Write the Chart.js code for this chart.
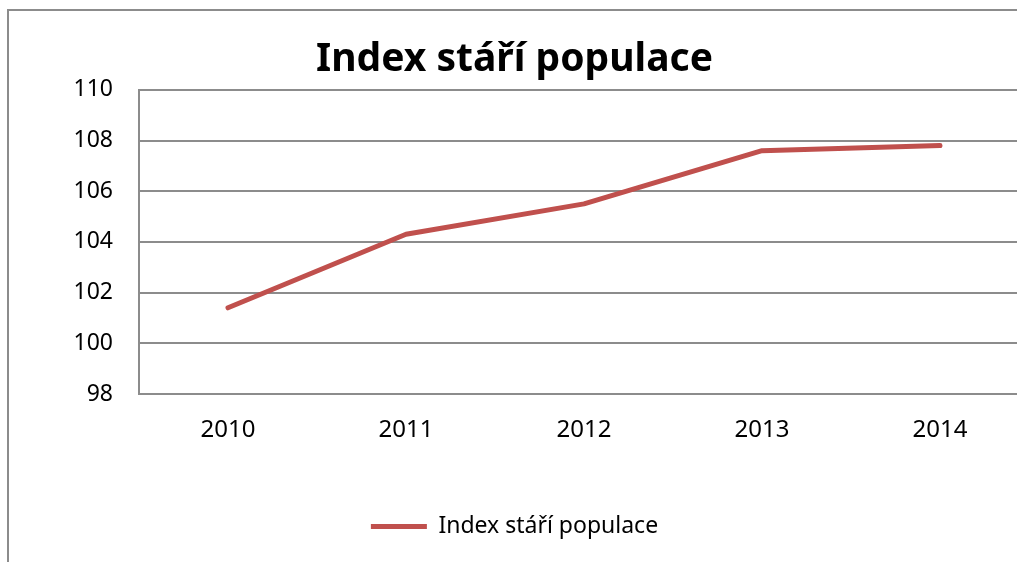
<!DOCTYPE html>
<html>
<head>
<meta charset="utf-8">
<script src="https://cdn.jsdelivr.net/npm/chart.js@4"></script>
<style>
html,body{margin:0;padding:0;background:#fff;overflow:hidden;width:1017px;height:562px;}
#frame{position:absolute;left:7px;top:9px;width:1030px;height:560px;border-left:2px solid #8c8c8c;border-top:2px solid #8c8c8c;box-sizing:border-box;}
#wrap{position:absolute;left:0;top:0;width:1029px;height:562px;}
</style>
</head>
<body>
<div id="frame"></div>
<div id="wrap"><canvas id="c" width="1029" height="562"></canvas></div>
<script>
const categories = ['2010', '2011', '2012', '2013', '2014'];
const seriesName = 'Index stáří populace';
const values = [101.4, 104.3, 105.5, 107.6, 107.8];
const yTicks = [98, 100, 102, 104, 106, 108, 110];
const titleText = 'Index stáří populace';

const FONT = "'Noto Sans', sans-serif";
new Chart(document.getElementById('c'), {
  type: 'line',
  data: {
    labels: categories,
    datasets: [{
      label: seriesName,
      data: values,
      borderColor: '#C0504D',
      backgroundColor: '#C0504D',
      borderWidth: 5,
      borderCapStyle: 'round',
      borderJoinStyle: 'round',
      pointRadius: 0,
      pointHoverRadius: 0,
      tension: 0,
      fill: false
    }]
  },
  options: {
    responsive: false,
    animation: false,
    layout: { padding: { left: 0, right: 0, top: 36, bottom: 14 } },
    plugins: {
      title: {
        display: true,
        text: titleText,
        color: '#000',
        font: { family: FONT, size: 39, weight: 'bold' },
        padding: { top: 0, bottom: 7 }
      },
      legend: {
        position: 'bottom',
        labels: {
          color: '#000',
          font: { family: FONT, size: 23 },
          usePointStyle: true,
          pointStyle: 'line',
          pointStyleWidth: 56,
          boxHeight: 22,
          padding: 0
        }
      },
      tooltip: { enabled: false }
    },
    scales: {
      x: {
        offset: true,
        grid: { display: false, drawTicks: false },
        border: { display: true, color: '#8c8c8c', width: 2 },
        ticks: { color: '#000', font: { family: FONT, size: 24 }, padding: 22 },
        afterFit: (s) => { s.height = 121; }
      },
      y: {
        min: 98, max: 110,
        afterBuildTicks: (s) => { s.ticks = yTicks.map(v => ({ value: v })); },
        grid: { color: '#8c8c8c', lineWidth: 2, drawTicks: false },
        border: { display: true, color: '#8c8c8c', width: 2 },
        ticks: { color: '#000', font: { family: FONT, size: 23 }, padding: 26 },
        afterFit: (s) => { s.width = 139; }
      }
    }
  }
});
</script>
</body>
</html>
